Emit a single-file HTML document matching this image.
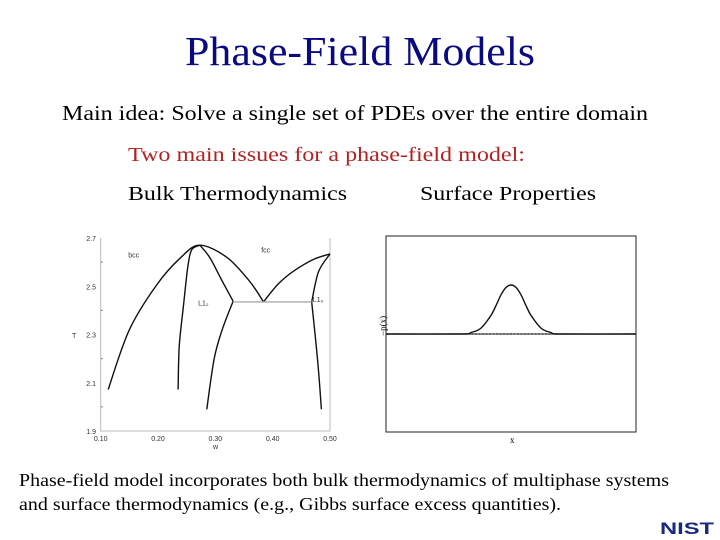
<!DOCTYPE html>
<html><head><meta charset="utf-8"><style>
html,body{margin:0;padding:0;background:#fff;}
svg{display:block;}
svg text{font-family:"Liberation Serif","Times New Roman",serif;}
svg text.ax{font-family:"Liberation Sans",Arial,sans-serif;font-size:7px;fill:#333;}
</style></head><body>
<svg id="page" width="720" height="540" viewBox="0 0 720 540" xmlns="http://www.w3.org/2000/svg">
<text x="185" y="65" font-size="41" fill="#0a0a80" textLength="350" lengthAdjust="spacingAndGlyphs">Phase-Field Models</text>
<text x="62" y="120" font-size="21" fill="#000" textLength="586" lengthAdjust="spacingAndGlyphs">Main idea: Solve a single set of PDEs over the entire domain</text>
<text x="128" y="161" font-size="20" fill="#b22222" textLength="397" lengthAdjust="spacingAndGlyphs">Two main issues for a phase-field model:</text>
<text x="128" y="200" font-size="20" fill="#000" textLength="219" lengthAdjust="spacingAndGlyphs">Bulk Thermodynamics</text>
<text x="420" y="200" font-size="20" fill="#000" textLength="176" lengthAdjust="spacingAndGlyphs">Surface Properties</text>
<text x="19" y="486" font-size="17.5" fill="#000" textLength="650" lengthAdjust="spacingAndGlyphs">Phase-field model incorporates both bulk thermodynamics of multiphase systems</text>
<text x="19" y="510" font-size="17.5" fill="#000" textLength="542" lengthAdjust="spacingAndGlyphs">and surface thermodynamics (e.g., Gibbs surface excess quantities).</text>
<text x="660" y="534" class="logo" style="font-family:'Liberation Sans',sans-serif" font-weight="bold" font-size="17" fill="#1a2a80" textLength="54" lengthAdjust="spacingAndGlyphs">NIST</text>
<g id="phase"></g>
<g id="surf"></g>
</svg>
<script>
// Phase diagram data (w, T)
const xTicks=[0.10,0.20,0.30,0.40,0.50];
const xTickLabels=["0.10","0.20","0.30","0.40","0.50"];
const yTicks=[1.9,2.1,2.3,2.5,2.7];
const yTickLabels=["1.9","2.1","2.3","2.5","2.7"];
const bccFccW=[0.113,0.150,0.198,0.240,0.273,0.320,0.360,0.384];
const bccFccT=[2.072,2.320,2.507,2.620,2.670,2.620,2.520,2.435];
const bccL12W=[0.235,0.237,0.244,0.252,0.259,0.273];
const bccL12T=[2.072,2.250,2.410,2.580,2.652,2.670];
const l12FccW=[0.273,0.290,0.310,0.331,0.312,0.298,0.285];
const l12FccT=[2.670,2.620,2.530,2.438,2.320,2.200,1.990];
const fccL10W=[0.384,0.410,0.436,0.470,0.500];
const fccL10T=[2.435,2.510,2.562,2.610,2.634];
const l10W=[0.500,0.480,0.468,0.474,0.480,0.485];
const l10T=[2.634,2.560,2.435,2.300,2.150,1.990];
const eutW=[0.331,0.468];
const eutT=[2.435,2.435];
// Surface profile data
const profX=[0.0,0.30,0.34,0.38,0.42,0.44,0.46,0.48,0.50,0.52,0.54,0.56,0.58,0.62,0.66,0.70,1.0];
const profY=[0,0,0.03,0.12,0.38,0.58,0.80,0.95,1.0,0.95,0.80,0.58,0.38,0.12,0.03,0,0];
const NS="http://www.w3.org/2000/svg";
function mk(p,t,a){const e=document.createElementNS(NS,t);for(const k in a)e.setAttribute(k,a[k]);p.appendChild(e);return e;}
function smooth(pts,breaks){let d='M'+pts[0][0].toFixed(1)+' '+pts[0][1].toFixed(1);
for(let i=0;i<pts.length-1;i++){const p0=pts[i-1]&&!breaks.includes(i)?pts[i-1]:pts[i],p1=pts[i],p2=pts[i+1],p3=pts[i+2]&&!breaks.includes(i+1)?pts[i+2]:p2;
const c1=[p1[0]+(p2[0]-p0[0])/6,p1[1]+(p2[1]-p0[1])/6],c2=[p2[0]-(p3[0]-p1[0])/6,p2[1]-(p3[1]-p1[1])/6];
d+=`C${c1[0].toFixed(1)} ${c1[1].toFixed(1)} ${c2[0].toFixed(1)} ${c2[1].toFixed(1)} ${p2[0].toFixed(1)} ${p2[1].toFixed(1)}`;}return d;}
const ph=document.getElementById('phase');
const X=w=>100.7+(w-0.10)/0.4*229.3, Y=t=>431-(t-1.9)/0.8*193;
let fr=mk(ph,'path',{d:`M${X(0.1)} ${Y(2.7)}V${Y(1.9)}H${X(0.5)}V${Y(2.7)}`,fill:'none',stroke:'#bbb','stroke-width':1});

xTicks.forEach((v,i)=>{const t=mk(ph,'text',{x:X(v),y:441,'text-anchor':'middle',class:'ax'});t.textContent=xTickLabels[i];
});
yTicks.forEach((v,i)=>{const t=mk(ph,'text',{x:96,y:Y(v)+3,'text-anchor':'end',class:'ax'});t.textContent=yTickLabels[i];

if(i<yTicks.length-1){const m=mk(ph,'line',{x1:100.7,x2:103,y1:Y(v+0.1),y2:Y(v+0.1),stroke:'#888'});
}});
function curve(ws,ts,name,col,sw,breaks){const pts=ws.map((w,i)=>[X(w),Y(ts[i])]);
const p=mk(ph,'path',{d:smooth(pts,breaks||[]),fill:'none',stroke:col,'stroke-width':sw,'stroke-linejoin':'round'});
}
curve(bccFccW,bccFccT,'bcc-fcc-boundary','#111',1.4);
curve(bccL12W,bccL12T,'bcc-l12-boundary','#111',1.4);
curve(l12FccW,l12FccT,'l12-fcc-boundary','#111',1.4,[3]);
curve(fccL10W,fccL10T,'fcc-l10-boundary','#111',1.4);
curve(l10W,l10T,'l10-boundary','#111',1.4,[2]);
curve(eutW,eutT,'eutectoid-line','#aaa',1.4);
[['bcc',0.148,2.62,'phase-label-bcc'],['fcc',0.38,2.64,'phase-label-fcc'],['L1₂',0.27,2.42,'phase-label-l12'],['L1₀',0.47,2.435,'phase-label-l10']].forEach(a=>{
const t=mk(ph,'text',{x:X(a[1]),y:Y(a[2]),class:'ax','font-size':8});t.textContent=a[0];
});
let tt=mk(ph,'text',{x:72,y:338,class:'ax'});tt.textContent='T';
let tw=mk(ph,'text',{x:213,y:449,class:'ax'});tw.textContent='w';
// surface chart
const sf=document.getElementById('surf');
const SX=x=>386+x*250, SY=v=>334-v*49;
let bx=mk(sf,'rect',{x:386,y:236,width:250,height:196,fill:'none',stroke:'#222','stroke-width':1});

let bl=mk(sf,'line',{x1:386,x2:636,y1:SY(0),y2:SY(0),stroke:'#555','stroke-width':1.2});

let ds=mk(sf,'line',{x1:SX(0.30),x2:SX(0.66),y1:SY(0),y2:SY(0),stroke:'#000','stroke-dasharray':'2,1.5'});

let pd=smooth(profX.map((x,i)=>[SX(x),SY(profY[i])]),[]);
let pp=mk(sf,'path',{d:pd,fill:'none',stroke:'#111','stroke-width':1.4,'stroke-linejoin':'round'});

let yl=mk(sf,'text',{x:0,y:0,'font-size':9,transform:'translate(386,336) rotate(-90)'});yl.textContent='−p(x)';

let xl=mk(sf,'text',{x:510,y:443,'font-size':9});xl.textContent='x';

</script>
</body></html>
